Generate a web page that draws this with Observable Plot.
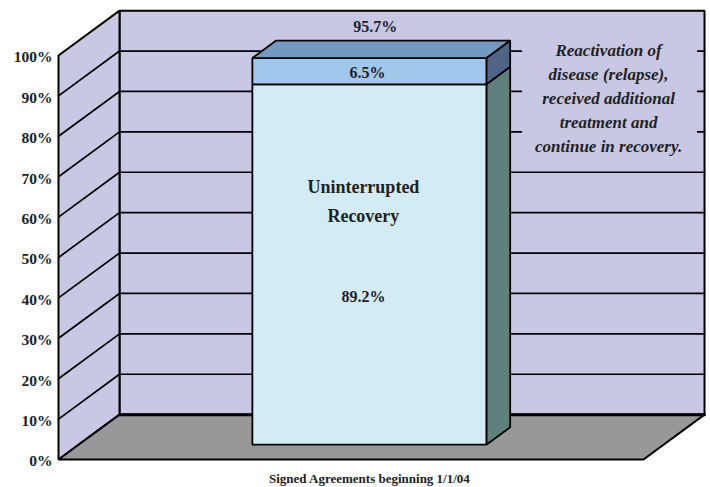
<!DOCTYPE html>
<html>
<head>
<meta charset="utf-8">
<script src="https://cdn.jsdelivr.net/npm/d3@7"></script>
<script src="https://cdn.jsdelivr.net/npm/@observablehq/plot@0.6"></script>
<style>
  html, body { margin: 0; padding: 0; background: #ffffff; }
  #chart svg { display: block; }
  #chart svg text, #chart svg tspan { font-family: "Times New Roman", Times, "Liberation Serif", "DejaVu Serif", serif !important; }
</style>
</head>
<body>
<div id="chart"></div>
<script>
// ---- Data ----
const categories = ["Signed Agreements beginning 1/1/04"];
const seriesNames = ["Uninterrupted\nRecovery", "Reactivation of\ndisease (relapse),\nreceived additional\ntreatment and\ncontinue in recovery."];
const uninterrupted = [89.2];
const relapse = [6.5];
const totals = [95.7];
const yTicks = [0, 10, 20, 30, 40, 50, 60, 70, 80, 90, 100];
const gridValues = [10, 20, 30, 40, 50, 60, 70, 80, 90];

// ---- Colours ----
const wallColor = "#c8c8e4";
const floorColor = "#98989b";
const lowerFront = "#d3ecf4";
const lowerSide = "#60807e";
const upperFront = "#a1c8ea";
const upperSide = "#4e6585";
const upperTop = "#729ac0";
const SERIF = "Times New Roman, Liberation Serif, DejaVu Serif, serif";

// ---- 3D projection helpers (oblique depth in data units) ----
const DX = 10.43, DY = 11.1;           // full depth offset
const P = (x, y, d) => ({x: x + d * DX, y: y + d * DY});
const barX0 = 29.7, barX1 = 69.7, barD0 = 0.33, barD1 = 0.72;
const barXC = (barX0 + barX1) / 2;

const poly = (pts, fill, stroke = "black", sw = 1.8) =>
  Plot.line(pts, {x: "x", y: "y", fill, stroke, strokeWidth: sw, curve: "linear-closed", strokeLinejoin: "miter"});
const path = (pts, sw = 1.8) =>
  Plot.line(pts, {x: "x", y: "y", stroke: "black", strokeWidth: sw});

const u = uninterrupted[0], r = relapse[0], t = totals[0];
const top1 = u + r;

const marks = [
  // back wall
  poly([P(0,0,1), P(100,0,1), P(100,100,1), P(0,100,1)], wallColor, "black", 2),
  // left wall
  poly([P(0,0,0), P(0,0,1), P(0,100,1), P(0,100,0)], wallColor, "black", 2),
  // floor
  poly([P(0,0,0), P(100,0,0), P(100,0,1), P(0,0,1)], floorColor, "black", 2),
  // gridlines
  ...gridValues.map(v => path([P(0,v,0), P(0,v,1), P(100,v,1)], 1.7)),
  // annotation background
  Plot.rect([0], {x1: 68.9 + DX, x2: 98.8 + DX, y1: 62.4 + DY, y2: 93.1 + DY, fill: wallColor}),
  // thicker floor/wall junction
  path([P(0,0,1), P(100,0,1)], 3),
  // bar: lower segment
  poly([P(barX1,0,barD0), P(barX1,0,barD1), P(barX1,u,barD1), P(barX1,u,barD0)], lowerSide),
  poly([P(barX0,0,barD0), P(barX1,0,barD0), P(barX1,u,barD0), P(barX0,u,barD0)], lowerFront),
  // bar: upper segment
  poly([P(barX1,u,barD0), P(barX1,u,barD1), P(barX1,top1,barD1), P(barX1,top1,barD0)], upperSide),
  poly([P(barX0,u,barD0), P(barX1,u,barD0), P(barX1,top1,barD0), P(barX0,top1,barD0)], upperFront),
  poly([P(barX0,top1,barD0), P(barX1,top1,barD0), P(barX1,top1,barD1), P(barX0,top1,barD1)], upperTop),
  // y axis labels
  Plot.text(yTicks, {x: 0, y: d => d, text: d => d + "%", textAnchor: "end", dx: -6, dy: 2,
    fontSize: 15.5, fontWeight: "bold", fontFamily: SERIF, fill: "#222"}),
  // category label
  Plot.text(categories, {x: barXC + barD0 * DX, y: 0, text: d => d, dy: 19,
    fontSize: 13, fontWeight: "bold", fontFamily: SERIF, fill: "#222"}),
  // total label above bar
  Plot.text(totals, {x: barXC + ((barD0 + barD1) / 2) * DX, y: d => d + ((barD0 + barD1) / 2) * DY,
    text: d => d.toFixed(1) + "%", dx: -6, dy: -22,
    fontSize: 16, fontWeight: "bold", fontFamily: SERIF, fill: "#222"}),
  // relapse value
  Plot.text(relapse, {x: barXC + barD0 * DX, y: d => u + d / 2 + barD0 * DY, text: d => d.toFixed(1) + "%",
    dx: -2, dy: 2, fontSize: 16, fontWeight: "bold", fontFamily: SERIF, fill: "#222"}),
  // uninterrupted name + value
  Plot.text([seriesNames[0]], {x: barXC + barD0 * DX, y: u * 0.683 + barD0 * DY, text: d => d,
    dx: -6, lineHeight: 1.6, fontSize: 18, fontWeight: "bold", fontFamily: SERIF, fill: "#222"}),
  Plot.text(uninterrupted, {x: barXC + barD0 * DX, y: d => d * 0.41 + barD0 * DY, text: d => d.toFixed(1) + "%",
    dx: -6, fontSize: 16, fontWeight: "bold", fontFamily: SERIF, fill: "#222"}),
  // relapse annotation
  Plot.text([seriesNames[1]], {x: 83.6 + DX, y: 78.8 + DY, text: d => d, lineHeight: 1.42,
    fontSize: 17, fontWeight: "bold", fontStyle: "italic", fontFamily: SERIF, fill: "#222"})
];

const chart = Plot.plot({
  width: 710,
  height: 487,
  marginLeft: 58,
  marginRight: 67,
  marginTop: 55,
  marginBottom: 28,
  x: {domain: [0, 100], axis: null},
  y: {domain: [0, 100], axis: null},
  style: {background: "white", overflow: "visible", fontFamily: SERIF},
  marks
});
document.getElementById("chart").appendChild(chart);
</script>
</body>
</html>
